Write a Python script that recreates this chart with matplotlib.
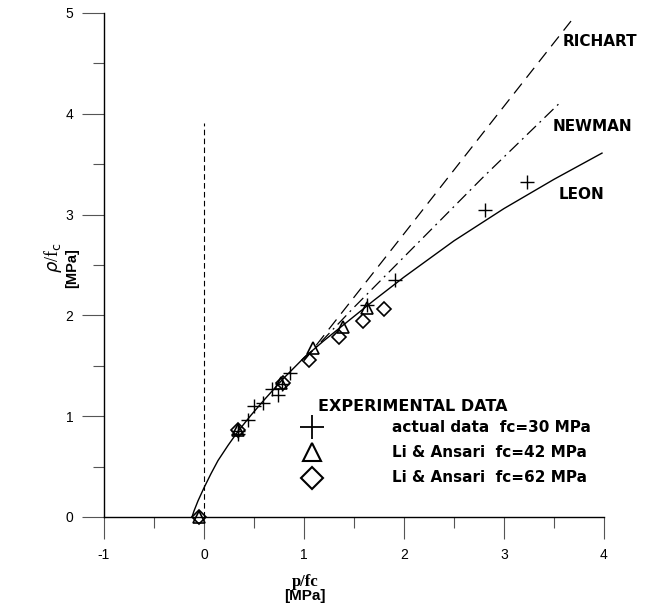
import matplotlib
matplotlib.use("Agg")
import matplotlib.pyplot as plt
from matplotlib.ticker import MultipleLocator

plt.rcParams["axes.unicode_minus"] = False

# ---- data ----
leon_x = [-0.12, -0.10, -0.06, 0.0, 0.07, 0.14, 0.24, 0.34, 0.47, 0.6, 0.8, 1.0,
          1.2, 1.4, 1.7, 2.0, 2.5, 3.0, 3.5, 3.98]
leon_y = [0.0, 0.06, 0.16, 0.29, 0.43, 0.56, 0.71, 0.85, 1.01, 1.16, 1.38, 1.58,
          1.75, 1.91, 2.15, 2.38, 2.74, 3.06, 3.35, 3.61]

newman_x = [1.0, 1.5, 2.0, 2.79, 3.57]
newman_y = [1.56, 2.08, 2.58, 3.37, 4.12]

richart_x = [1.0, 2.0, 2.79, 3.67]
richart_y = [1.55, 2.81, 3.81, 4.92]

plus_x = [0.34, 0.34, 0.44, 0.50, 0.59, 0.68, 0.74, 0.78, 0.86, 1.63, 1.91, 2.81, 3.23]
plus_y = [0.85, 0.82, 0.96, 1.10, 1.13, 1.27, 1.21, 1.32, 1.43, 2.10, 2.35, 3.05, 3.32]

tri_x = [-0.05, 0.34, 0.77, 1.09, 1.39, 1.63]
tri_y = [0.0, 0.86, 1.33, 1.68, 1.88, 2.07]

dia_x = [-0.05, 0.34, 0.79, 1.05, 1.35, 1.59, 1.80]
dia_y = [0.0, 0.86, 1.33, 1.56, 1.79, 1.94, 2.06]

vline_x = [0.0, 0.0]
vline_y = [0.0, 3.91]

x_ticks = [-1, 0, 1, 2, 3, 4]
y_ticks = [0, 1, 2, 3, 4, 5]
legend_labels = ["actual data  fc=30 MPa", "Li & Ansari  fc=42 MPa", "Li & Ansari  fc=62 MPa"]

fig = plt.figure(figsize=(6.48, 6.16), dpi=100)
ax = fig.add_axes([104/648, 1-517/616, 500/648, 504/616])

ax.plot(leon_x, leon_y, color="black", lw=1.0, clip_on=False)
ax.plot(newman_x, newman_y, color="black", lw=0.9, dashes=[10, 4, 1.5, 4])
ax.plot(richart_x, richart_y, color="black", lw=0.9, dashes=[10, 6])
ax.plot(vline_x, vline_y, color="black", lw=0.8, dashes=[5, 3])

ax.plot(plus_x, plus_y, ls="none", marker="+", ms=10, mew=1.0, color="black", clip_on=False)
ax.plot(tri_x, tri_y, ls="none", marker="^", ms=8, mew=1.2, mfc="none", mec="black", clip_on=False)
ax.plot(dia_x, dia_y, ls="none", marker="D", ms=7, mew=1.2, mfc="none", mec="black", clip_on=False)

ax.set_xlim(-1, 4)
ax.set_ylim(0, 5)
ax.set_xticks(x_ticks)
ax.set_yticks(y_ticks)
ax.xaxis.set_minor_locator(MultipleLocator(0.5))
ax.yaxis.set_minor_locator(MultipleLocator(0.5))
ax.spines["top"].set_visible(False)
ax.spines["right"].set_visible(False)
ax.spines["left"].set_linewidth(1.0)
ax.spines["bottom"].set_linewidth(1.0)
ax.tick_params(which="major", direction="out", length=16, width=0.8, color="#555555",
               labelsize=10, pad=6)
ax.tick_params(which="minor", direction="out", length=8, width=0.8, color="#555555")
for lab in ax.get_xticklabels() + ax.get_yticklabels():
    lab.set_family("Liberation Sans")

# curve labels
lab_kw = dict(fontsize=11, fontweight="bold", family="DejaVu Sans", va="center", ha="left")
ax.text(3.59, 4.72, "RICHART", **lab_kw)
ax.text(3.49, 3.87, "NEWMAN", **lab_kw)
ax.text(3.55, 3.20, "LEON", **lab_kw)

# legend (manual)
ax.text(1.14, 1.10, "EXPERIMENTAL DATA", fontsize=11.5, fontweight="bold",
        family="DejaVu Sans", va="center", ha="left")
leg_y = [0.89, 0.64, 0.39]
ax.plot([1.08], [leg_y[0]], marker="+", ms=17, mew=1.3, color="black", ls="none")
ax.plot([1.08], [leg_y[1]], marker="^", ms=13, mew=1.5, mfc="none", mec="black", ls="none")
ax.plot([1.08], [leg_y[2]], marker="D", ms=11, mew=1.5, mfc="none", mec="black", ls="none")
for yy, t in zip(leg_y, legend_labels):
    ax.text(1.88, yy, t, fontsize=11, fontweight="bold", family="DejaVu Sans",
            va="center", ha="left")

# axis labels
fig.text(305/648, 1-582/616, "p/fc", fontsize=12, fontweight="bold",
         family="Liberation Serif", ha="center", va="center")
fig.text(305/648, 1-596/616, "[MPa]", fontsize=11, fontweight="bold",
         family="Liberation Sans", ha="center", va="center")
fig.text(53/648, 1-258/616, r"$\rho$/f$_{\rm c}$", fontsize=13,
         family="Liberation Serif", ha="center", va="center", rotation=90)
fig.text(72/648, 1-268/616, "[MPa]", fontsize=10.5, fontweight="bold",
         family="Liberation Sans", ha="center", va="center", rotation=90)

fig.savefig("out.png", dpi=100)
